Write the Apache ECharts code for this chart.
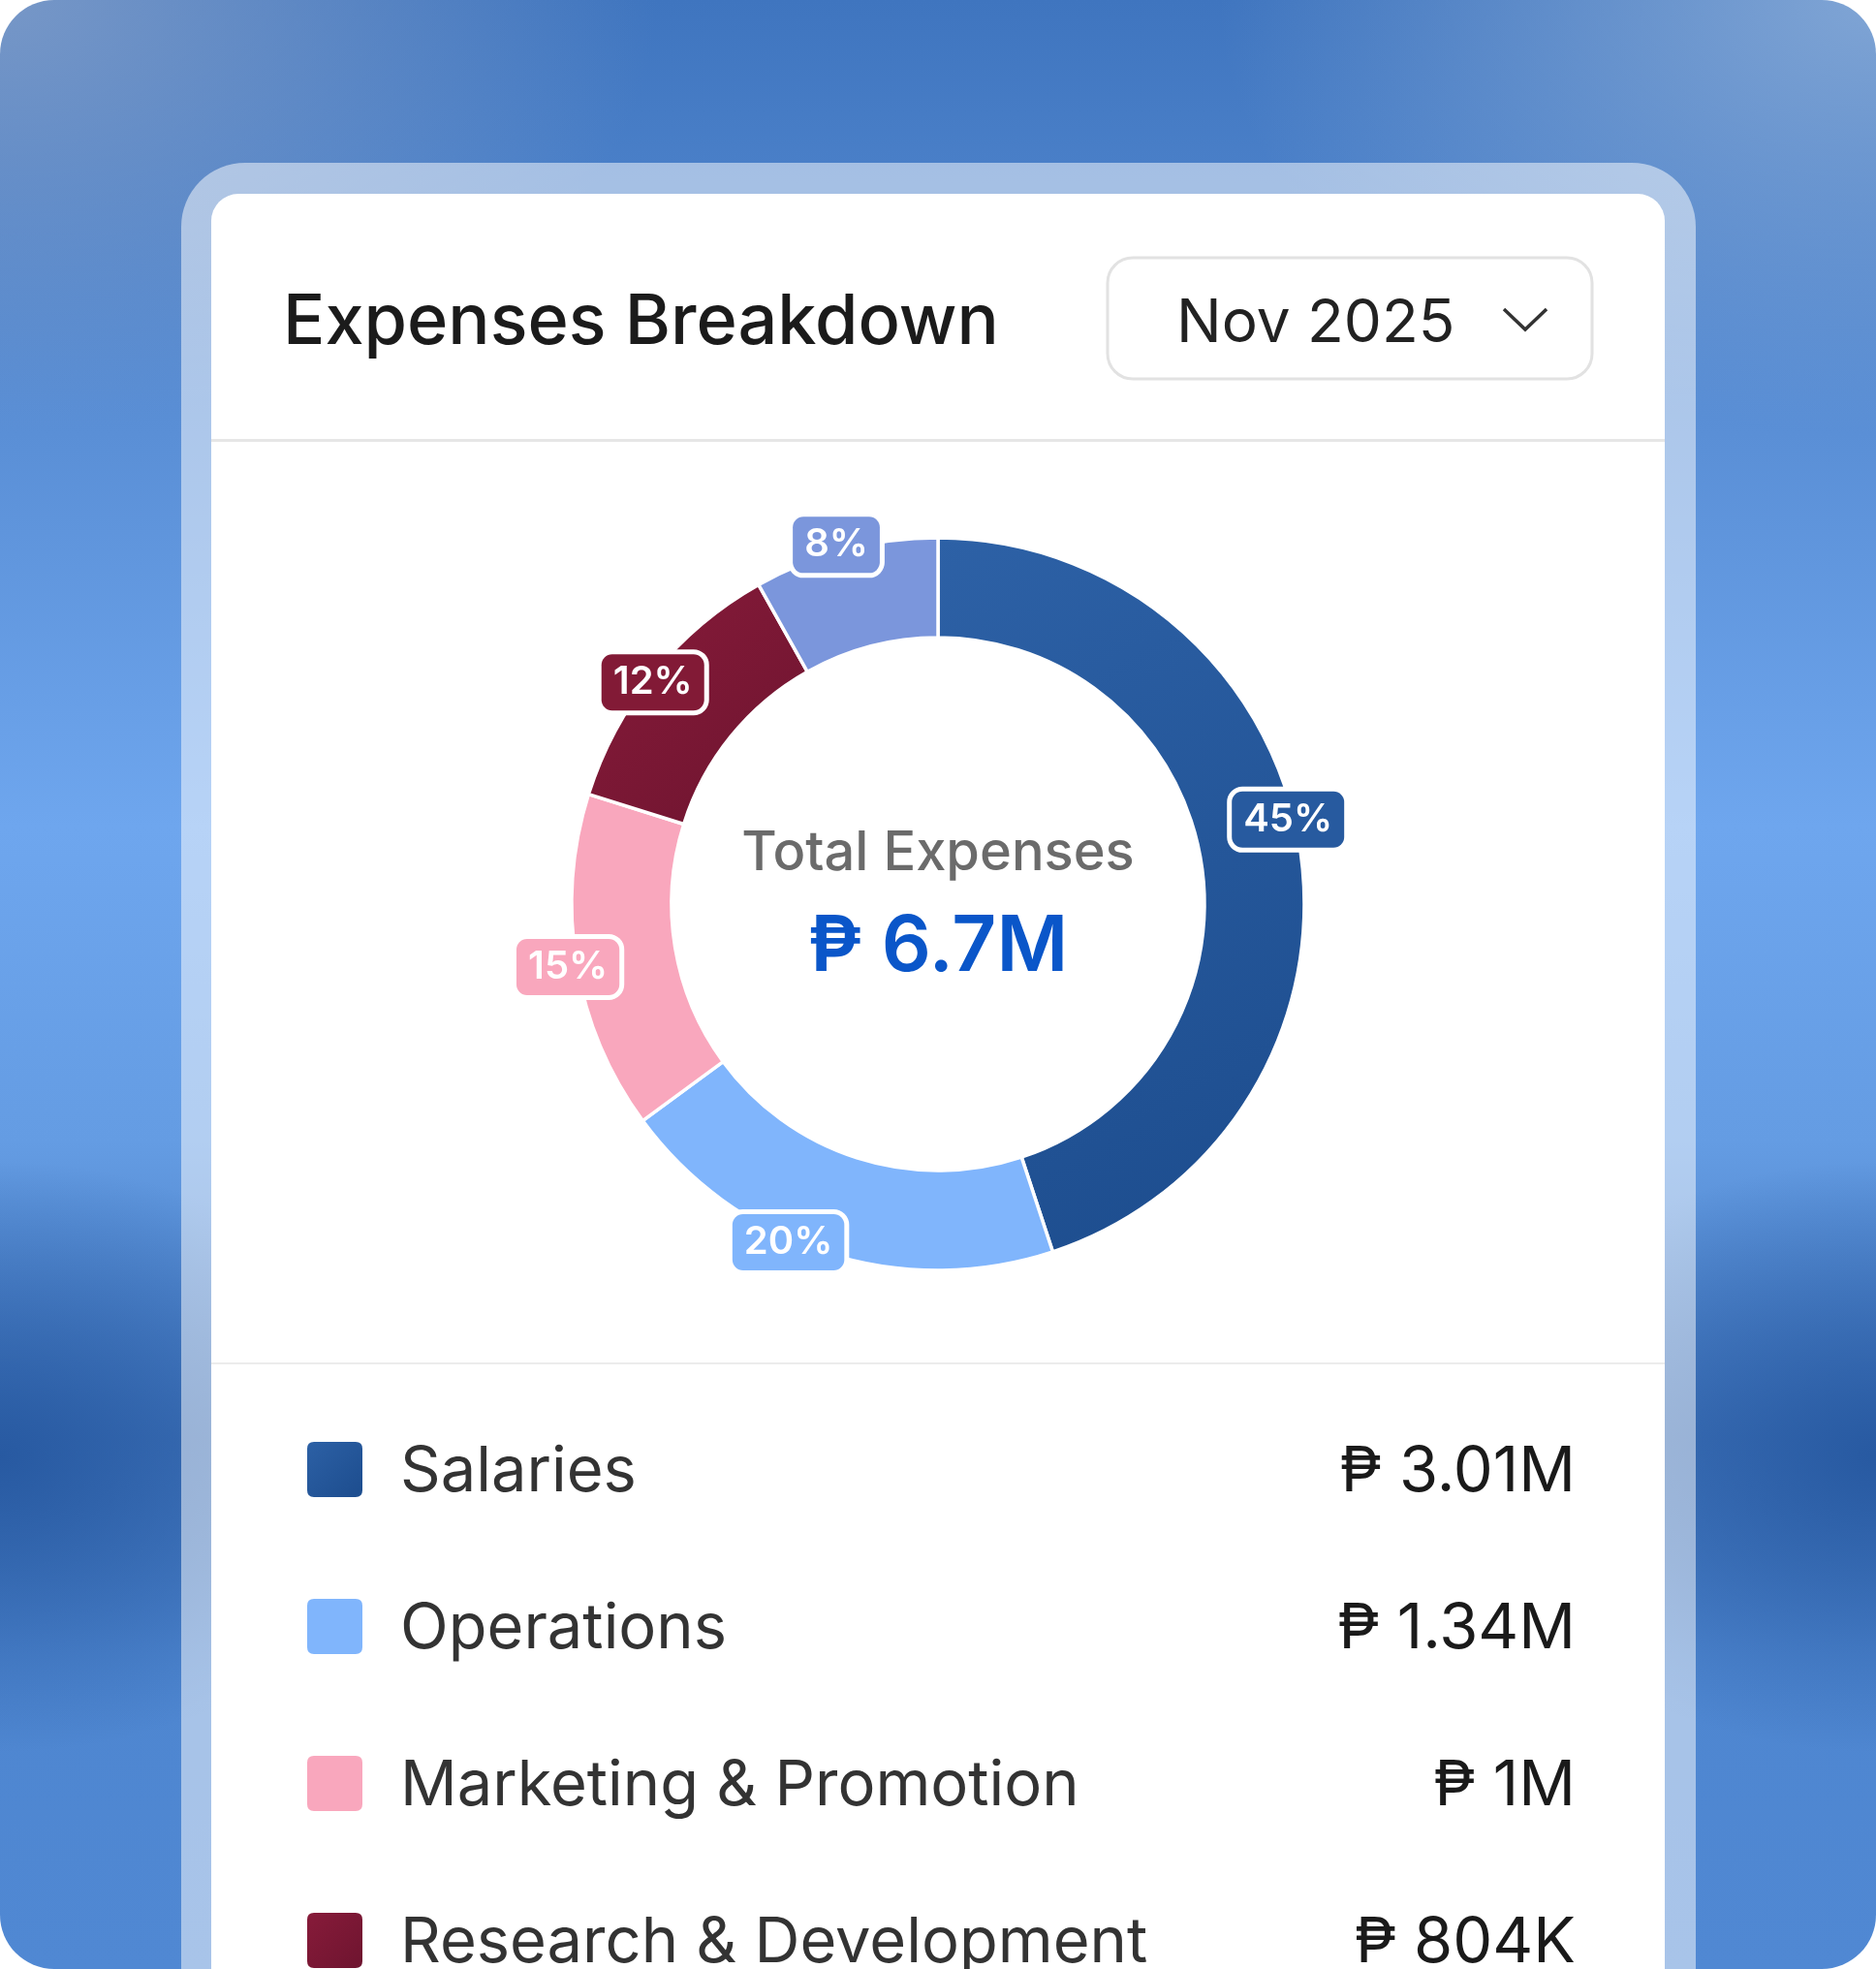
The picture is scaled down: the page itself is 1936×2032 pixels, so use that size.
<!DOCTYPE html>
<html>
<head>
<meta charset="utf-8">
<script src="https://cdn.jsdelivr.net/npm/echarts@6/dist/echarts.min.js"></script>
<style>
html,body{margin:0;padding:0;background:#fff;overflow:hidden;}
#bg{position:absolute;left:0;top:0;width:1936px;height:2032px;border-radius:56px;overflow:hidden;
background:
 radial-gradient(ellipse 22% 15% at 0% 74%, rgba(38,88,160,0.95), rgba(38,88,160,0) 100%),
 radial-gradient(ellipse 22% 15% at 100% 74%, rgba(38,88,160,0.95), rgba(38,88,160,0) 100%),
 radial-gradient(ellipse 35% 22% at 0% 0%, rgba(125,155,200,0.9), rgba(125,155,200,0) 100%),
 radial-gradient(ellipse 35% 22% at 100% 0%, rgba(135,170,215,0.9), rgba(135,170,215,0) 100%),
 linear-gradient(180deg,#3f75bf 0%,#5a8fd6 22%,#6ea6ee 42%,#649ce3 58%,#4276bd 73%,#4e86d0 84%,#5088d3 100%);}
#frame{position:absolute;left:187px;top:168px;width:1563px;height:2100px;border-radius:66px;background:rgba(255,255,255,0.5);}
#card{position:absolute;left:218px;top:200px;width:1500px;height:2100px;border-radius:28px;background:#fff;}
#chart{position:absolute;left:0;top:0;width:1936px;height:2032px;}
</style>
</head>
<body>
<div id="bg"></div>
<div id="frame"></div>
<div id="card"></div>
<div id="chart"></div>
<script>
// ---- data ----
const categories = ['Salaries', 'Operations', 'Marketing & Promotion', 'Research & Development', 'Others'];
const values = [3.01, 1.34, 1.0, 0.804, 0.546];           // millions of pesos
const valueLabels = ['₱ 3.01M', '₱ 1.34M', '₱ 1M', '₱ 804K', '₱ 546K'];
const totalLabel = '₱ 6.7M';
const titleText = 'Expenses Breakdown';
const periodText = 'Nov 2025';
const centerCaption = 'Total Expenses';

// ---- styles ----
const FONT = 'Inter, "Noto Sans", sans-serif';
const colors = [
  {type:'linear',x:0,y:0,x2:1,y2:1,colorStops:[{offset:0,color:'#2d61a6'},{offset:1,color:'#1c4c8d'}]},
  '#80b5fc',
  '#f9a7bd',
  {type:'linear',x:0,y:0,x2:1,y2:1,colorStops:[{offset:0,color:'#881b3a'},{offset:1,color:'#6d142f'}]},
  '#7b96dc'
];
const badgeColors = ['#275a9f', '#80b5fc', '#f9a7bd', '#821a36', '#7b96dc'];
const badgeNudges = [[-13, -27], [-39, -12], [-8, 3], [0, 10], [-9, -4]];

const cx = 968, cy = 933;

const chart = echarts.init(document.getElementById('chart'), null, {renderer:'canvas'});

const pieData = categories.map((n, i) => ({name: n, value: values[i], itemStyle: {color: colors[i]}}));
const labelData = categories.map((n, i) => ({
  name: n, value: values[i],
  label: {backgroundColor: badgeColors[i], offset: badgeNudges[i]}
}));

chart.setOption({
  animation: false,
  title: {
    text: titleText, left: 287, top: 292,
    textStyle: {fontFamily: FONT, fontSize: 72, fontWeight: 500, color: '#1b1b1b'}
  },
  legend: {
    orient: 'vertical', left: 315, top: 1486, height: 1200, padding: 0,
    itemWidth: 59, itemHeight: 59, itemGap: 96,
    icon: 'path://M8,0H51Q59,0 59,8V51Q59,59 51,59H8Q0,59 0,51V8Q0,0 8,0Z',
    selectedMode: false,
    data: categories,
    formatter: function (name) {
      const i = categories.indexOf(name);
      return '{n|' + name + '}{v|' + valueLabels[i] + '}';
    },
    textStyle: {
      rich: {
        n: {fontFamily: FONT, fontSize: 65, color: '#333333', width: 880, padding: [6, 0, 0, 33]},
        v: {fontFamily: FONT, fontSize: 65, color: '#1a1a1a', width: 333, align: 'right', padding: [6, 0, 0, 0]}
      }
    }
  },
  graphic: [
    {type: 'rect', shape: {x: 218, y: 453, width: 1500, height: 3}, style: {fill: '#e6e6e6'}, silent: true},
    {type: 'rect', shape: {x: 218, y: 1406, width: 1500, height: 2}, style: {fill: '#ececec'}, silent: true},
    {type: 'rect', shape: {x: 1143, y: 266, width: 500, height: 125, r: 26}, style: {fill: '#fff', stroke: '#e2e2e2', lineWidth: 3}, silent: true},
    {type: 'text', x: 1214, y: 334, style: {text: periodText, font: '400 62px ' + FONT, fill: '#222', textVerticalAlign: 'middle'}, silent: true},
    {type: 'polyline', shape: {points: [[1552, 319], [1574, 340], [1596, 319]]}, style: {stroke: '#333', lineWidth: 3.5, fill: null}, silent: true},
    {type: 'text', x: cx, y: 881, style: {text: centerCaption, font: '500 56px ' + FONT, fill: '#6b6b6b', textAlign: 'center', textVerticalAlign: 'middle'}, silent: true},
    {type: 'text', x: cx, y: 978, style: {text: totalLabel, font: '600 80px ' + FONT, fill: '#0a56c9', textAlign: 'center', textVerticalAlign: 'middle'}, silent: true}
  ],
  series: [
    {
      type: 'pie', center: [cx, cy], radius: [275, 378], startAngle: 90, clockwise: true,
      silent: true, label: {show: false}, labelLine: {show: false},
      itemStyle: {borderColor: '#fff', borderWidth: 3.5},
      data: pieData
    },
    {
      type: 'pie', center: [cx, cy], radius: [372, 380], startAngle: 90, clockwise: true,
      silent: true, legendHoverLink: false, percentPrecision: 0,
      itemStyle: {color: 'rgba(0,0,0,0)'},
      label: {
        show: true, position: 'inside', formatter: '{d}%', rotate: 0,
        fontFamily: FONT, fontSize: 40, fontWeight: 600, color: '#fff',
        borderColor: '#fff', borderWidth: 5, borderRadius: 11, padding: [10, 12, 8, 12]
      },
      labelLine: {show: false},
      data: labelData
    }
  ]
});
</script>
</body>
</html>
